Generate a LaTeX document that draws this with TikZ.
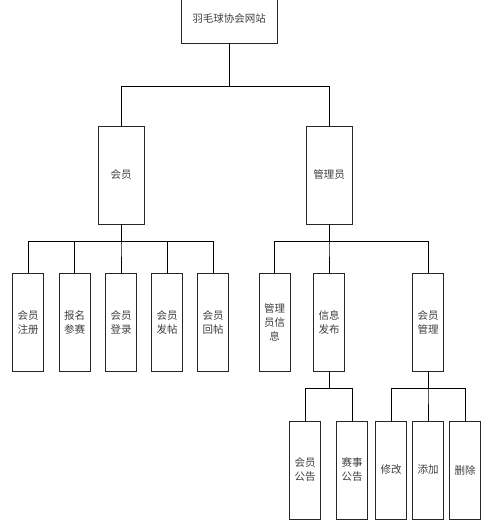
\documentclass[tikz,border=0pt]{standalone}
\usepackage{fontspec}
\newfontfamily\cjk{Noto Sans CJK SC}
\begin{document}
\begin{tikzpicture}[x=1pt,y=-1pt,
  box/.style={draw=black!85, line width=0.9pt, inner sep=0pt, align=center,
    font=\cjk\fontsize{10.5}{14}\selectfont, text=black!75},
  tall/.style={box, minimum width=31pt, minimum height=98pt},
  lk/.style={line width=0.8pt}]
\useasboundingbox (0,0) rectangle (501,522);
\fill[white] (0,0) rectangle (501,522);
% top
\node[box, minimum width=96pt, minimum height=49pt] (top) at (229,18.5) {羽毛球协会网站};
% level 1
\node[box, minimum width=46pt, minimum height=98pt] (hy) at (121,175) {会员};
\node[box, minimum width=46pt, minimum height=98pt] (gl) at (329,175) {管理员};
% level 2
\node[tall] (zc) at (28,322.5) {会员\\注册};
\node[tall] (bm) at (74.5,322.5) {报名\\参赛};
\node[tall] (dl) at (121,322.5) {会员\\登录};
\node[tall] (ft) at (167,322.5) {会员\\发帖};
\node[tall] (ht) at (213,322.5) {会员\\回帖};
\node[tall] (xx) at (274.5,322.5) {管理\\员信\\息};
\node[tall] (fb) at (329,322.5) {信息\\发布};
\node[tall] (hg) at (428,322.5) {会员\\管理};
% level 3
\node[tall] (gg) at (305,470) {会员\\公告};
\node[tall] (ss) at (352,470) {赛事\\公告};
\node[tall] (xg) at (391,470) {修改};
\node[tall] (tj) at (428,470) {添加};
\node[tall] (sc) at (465,470) {删除};
% buses
\coordinate (b0) at (0,86);
\coordinate (b1) at (0,241);
\coordinate (b2) at (0,388);
\foreach \c in {hy,gl} \draw[lk] (top.south) -- (top.south |- b0) -| (\c.north);
\foreach \c in {zc,bm,dl,ft,ht} \draw[lk] (hy.south) -- (hy.south |- b1) -| (\c.north);
\foreach \c in {xx,fb,hg} \draw[lk] (gl.south) -- (gl.south |- b1) -| (\c.north);
\foreach \c in {gg,ss} \draw[lk] (fb.south) -- (fb.south |- b2) -| (\c.north);
\foreach \c in {xg,tj,sc} \draw[lk] (hg.south) -- (hg.south |- b2) -| (\c.north);
\end{tikzpicture}
\end{document}
